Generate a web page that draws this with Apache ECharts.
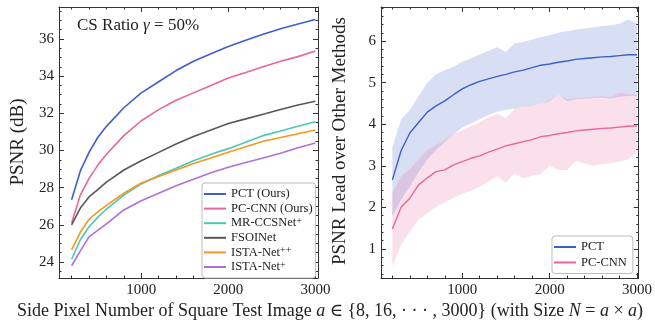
<!DOCTYPE html>
<html>
<head>
<meta charset="utf-8">
<script src="https://cdn.jsdelivr.net/npm/echarts@6/dist/echarts.min.js"></script>
<style>
  html, body { margin: 0; padding: 0; background: #fff; }
  #chart { width: 655px; height: 324px; }
</style>
</head>
<body>
<div id="chart"></div>
<script>
  // left panel: PSNR vs image side length
  var sizesLeft = [200, 300, 400, 500, 600, 800, 1000, 1200, 1400, 1600, 1800, 2000, 2200, 2400, 2600, 2800, 3000];
  var psnrPCT     = [27.35, 28.9, 29.9, 30.7, 31.3, 32.3, 33.1, 33.7, 34.3, 34.8, 35.2, 35.6, 35.93, 36.25, 36.55, 36.8, 37.05];
  var psnrPCCNN   = [26.1, 27.6, 28.5, 29.2, 29.8, 30.8, 31.6, 32.2, 32.7, 33.1, 33.5, 33.9, 34.2, 34.5, 34.8, 35.05, 35.35];
  var psnrMRCCS   = [24.15, 25.2, 25.9, 26.4, 26.85, 27.6, 28.2, 28.65, 29.05, 29.45, 29.8, 30.1, 30.45, 30.8, 31.05, 31.3, 31.55];
  var psnrFSOI    = [26.0, 26.9, 27.5, 27.9, 28.3, 28.95, 29.45, 29.9, 30.35, 30.75, 31.1, 31.45, 31.7, 31.95, 32.2, 32.45, 32.65];
  var psnrISTApp  = [24.65, 25.6, 26.3, 26.7, 27.05, 27.7, 28.25, 28.6, 28.95, 29.3, 29.6, 29.9, 30.2, 30.5, 30.7, 30.9, 31.1];
  var psnrISTAp   = [23.8, 24.6, 25.35, 25.7, 26.05, 26.8, 27.3, 27.7, 28.1, 28.45, 28.8, 29.1, 29.35, 29.6, 29.85, 30.15, 30.4];

  // right panel: lead over other methods (mean and band)
  var sizesRight = [200, 300, 400, 500, 600, 700, 800, 900, 1000, 1100, 1200, 1300, 1400, 1500, 1600, 1700, 1800, 1900, 2000, 2100, 2200, 2300, 2400, 2500, 2600, 2700, 2800, 2900, 3000];
  var leadPCT      = [2.66, 3.36, 3.79, 4.04, 4.29, 4.44, 4.56, 4.71, 4.85, 4.95, 5.03, 5.09, 5.15, 5.2, 5.26, 5.3, 5.36, 5.42, 5.45, 5.49, 5.52, 5.56, 5.58, 5.6, 5.62, 5.63, 5.65, 5.67, 5.67];
  var leadPCTHigh  = [3.45, 4.12, 4.34, 4.68, 5.0, 5.2, 5.3, 5.38, 5.5, 5.58, 5.68, 5.77, 5.85, 5.74, 5.95, 5.98, 6.04, 6.1, 6.14, 6.2, 6.24, 6.27, 6.3, 6.33, 6.36, 6.38, 6.42, 6.52, 6.43];
  var leadPCTLow   = [1.78, 2.18, 2.5, 2.85, 3.15, 3.38, 3.58, 3.75, 3.92, 4.02, 4.12, 4.22, 4.3, 4.35, 4.38, 4.42, 4.45, 4.5, 4.55, 4.72, 4.55, 4.6, 4.62, 4.63, 4.64, 4.62, 4.66, 4.68, 4.68];
  var leadCNN      = [1.48, 2.0, 2.22, 2.54, 2.71, 2.86, 2.9, 3.02, 3.1, 3.18, 3.24, 3.33, 3.4, 3.48, 3.53, 3.58, 3.63, 3.7, 3.73, 3.77, 3.8, 3.84, 3.86, 3.88, 3.9, 3.91, 3.93, 3.95, 3.96];
  var leadCNNHigh  = [2.35, 2.74, 2.92, 3.15, 3.38, 3.5, 3.62, 3.76, 3.86, 3.95, 4.05, 4.16, 4.25, 4.15, 4.38, 4.42, 4.46, 4.5, 4.58, 4.72, 4.6, 4.62, 4.64, 4.66, 4.68, 4.65, 4.75, 4.72, 4.7];
  var leadCNNLow   = [0.58, 1.1, 1.42, 1.7, 1.86, 2.0, 2.12, 2.22, 2.33, 2.4, 2.5, 2.62, 2.74, 2.6, 2.82, 2.7, 2.76, 2.8, 3.0, 2.9, 2.9, 3.12, 3.05, 3.0, 3.04, 3.06, 3.1, 3.16, 3.32];

  var xMajor = [1000, 2000, 3000];
  var xMinor = [200, 400, 600, 800, 1200, 1400, 1600, 1800, 2200, 2400, 2600, 2800];
  var yMajorLeft = [24, 26, 28, 30, 32, 34, 36];
  var yMajorRight = [1, 2, 3, 4, 5, 6];

  var FONT = '"Liberation Serif", "DejaVu Serif", serif';
  var AXIS_COLOR = '#333';
  var C = { blue: '#3d5fc8', pink: '#e8669d', teal: '#4cc6b6', gray: '#585858', orange: '#f7971f', purple: '#b26fd6' };

  function zip(xs, ys) { return xs.map(function (x, i) { return [x, ys[i]]; }); }
  function range(lo, hi, step, skip) {
    var out = [];
    for (var v = lo; v <= hi + 1e-9; v += step) {
      var r = Math.round(v * 100) / 100;
      if (skip.indexOf(r) < 0) out.push(r);
    }
    return out;
  }

  // four axes per dim: main (line + major ticks), minor ticks, mirrored on the other side
  function frame(dim, gridIndex, min, max, majors, minors) {
    var sides = dim === 'x' ? ['bottom', 'top'] : ['left', 'right'];
    var list = [];
    sides.forEach(function (pos, k) {
      list.push({
        type: 'value', gridIndex: gridIndex, position: pos, min: min, max: max,
        axisLine: { show: true, onZero: false, lineStyle: { color: AXIS_COLOR, width: 1 } },
        axisTick: { show: true, inside: true, length: 5, customValues: majors, lineStyle: { color: AXIS_COLOR } },
        axisLabel: k === 0 ? {
          show: true, customValues: majors, color: '#222', fontFamily: FONT, fontSize: 15, margin: 5,
          formatter: function (v) { return String(v); }
        } : { show: false },
        splitLine: { show: false }
      });
      list.push({
        type: 'value', gridIndex: gridIndex, position: pos, min: min, max: max,
        axisLine: { show: false, onZero: false },
        axisTick: { show: true, inside: true, length: 2.5, customValues: minors, lineStyle: { color: AXIS_COLOR } },
        axisLabel: { show: false },
        splitLine: { show: false }
      });
    });
    return list;
  }

  var xAxes = frame('x', 0, 55, 3030, xMajor, xMinor)
    .concat(frame('x', 1, 70, 3020, xMajor, xMinor));
  var yAxes = frame('y', 0, 23.14, 37.72, yMajorLeft, range(23.5, 37.5, 0.5, yMajorLeft))
    .concat(frame('y', 1, 0.3, 6.82, yMajorRight, range(0.4, 6.8, 0.2, yMajorRight)));

  function leftLine(name, ys, color) {
    return {
      name: name, type: 'line', xAxisIndex: 0, yAxisIndex: 0, data: zip(sizesLeft, ys),
      symbol: 'none', color: color, lineStyle: { width: 1.6, color: color }
    };
  }
  // shaded min-max band, drawn as one polygon through the axis scales
  function band(low, high, fill) {
    return {
      type: 'custom', xAxisIndex: 4, yAxisIndex: 4, silent: true, z: 1,
      data: sizesRight.map(function (x, i) { return [x, low[i], high[i]]; }),
      encode: { x: 0, y: [1, 2] },
      renderItem: function (params, api) {
        if (params.dataIndex !== 0) return null;
        var pts = sizesRight.map(function (x, i) { return api.coord([x, high[i]]); });
        for (var i = sizesRight.length - 1; i >= 0; i--) pts.push(api.coord([sizesRight[i], low[i]]));
        return { type: 'polygon', shape: { points: pts }, style: { fill: fill } };
      }
    };
  }

  var supFmt = function (name) { return name.replace(/(\++)$/, '{sup|$1}'); };
  var legendText = {
    fontFamily: FONT, fontSize: 12.5, color: '#222', lineHeight: 14,
    rich: { sup: { fontFamily: FONT, fontSize: 10, verticalAlign: 'top', lineHeight: 9 } }
  };
  var legendBox = {
    orient: 'vertical', itemWidth: 22, itemHeight: 2, icon: 'rect',
    padding: [4, 3, 4, 2], borderColor: '#bbb', borderWidth: 1, borderRadius: 3, backgroundColor: '#fff',
    textStyle: legendText, selectedMode: false
  };

  var chart = echarts.init(document.getElementById('chart'), null, { renderer: 'canvas' });
  chart.setOption({
    animation: false,
    backgroundColor: '#fff',
    grid: [
      { left: 59, top: 7, width: 259, height: 271 },
      { left: 381, top: 7, width: 260, height: 271 }
    ],
    xAxis: xAxes,
    yAxis: yAxes,
    legend: [
      Object.assign({}, legendBox, {
        data: ['PCT (Ours)', 'PC-CNN (Ours)', 'MR-CCSNet+', 'FSOINet', 'ISTA-Net++', 'ISTA-Net+'],
        left: 202, top: 183, itemGap: 0.6, formatter: supFmt
      }),
      Object.assign({}, legendBox, {
        data: ['PCT', 'PC-CNN'],
        left: 552, top: 236, itemGap: 1.5, padding: [4, 6, 4, 2]
      })
    ],
    graphic: [
      { type: 'text', left: 77, top: 17, style: {
          text: 'CS Ratio {g|γ} = 50%', font: '17px ' + FONT, fill: '#222',
          rich: { g: { fontFamily: FONT, fontSize: 17, fontStyle: 'italic', fill: '#222' } } } },
      { type: 'text', x: 18, y: 142, rotation: Math.PI / 2, style: {
          text: 'PSNR (dB)', font: '19px ' + FONT, fill: '#222', align: 'center', verticalAlign: 'middle' } },
      { type: 'text', x: 340, y: 141, rotation: Math.PI / 2, style: {
          text: 'PSNR Lead over Other Methods', font: '19px ' + FONT, fill: '#222', align: 'center', verticalAlign: 'middle' } },
      { type: 'text', x: 330, y: 311, style: {
          text: 'Side Pixel Number of Square Test Image {i|a} ∈ {8, 16, · · · , 3000} (with Size {i|N} = {i|a} × {i|a})',
          font: '18px ' + FONT, fill: '#222', align: 'center', verticalAlign: 'middle',
          rich: { i: { fontFamily: FONT, fontSize: 18, fontStyle: 'italic', fill: '#222' } } } }
    ],
    series: [
      leftLine('PCT (Ours)', psnrPCT, C.blue),
      leftLine('PC-CNN (Ours)', psnrPCCNN, C.pink),
      leftLine('MR-CCSNet+', psnrMRCCS, C.teal),
      leftLine('FSOINet', psnrFSOI, C.gray),
      leftLine('ISTA-Net++', psnrISTApp, C.orange),
      leftLine('ISTA-Net+', psnrISTAp, C.purple),
      band(leadPCTLow, leadPCTHigh, 'rgba(61,95,200,0.2)'),
      band(leadCNNLow, leadCNNHigh, 'rgba(232,102,157,0.2)'),
      { name: 'PCT', type: 'line', xAxisIndex: 4, yAxisIndex: 4, z: 3, data: zip(sizesRight, leadPCT), symbol: 'none', color: C.blue, lineStyle: { width: 1.4, color: C.blue } },
      { name: 'PC-CNN', type: 'line', xAxisIndex: 4, yAxisIndex: 4, z: 3, data: zip(sizesRight, leadCNN), symbol: 'none', color: C.pink, lineStyle: { width: 1.4, color: C.pink } }
    ]
  });
</script>
</body>
</html>
